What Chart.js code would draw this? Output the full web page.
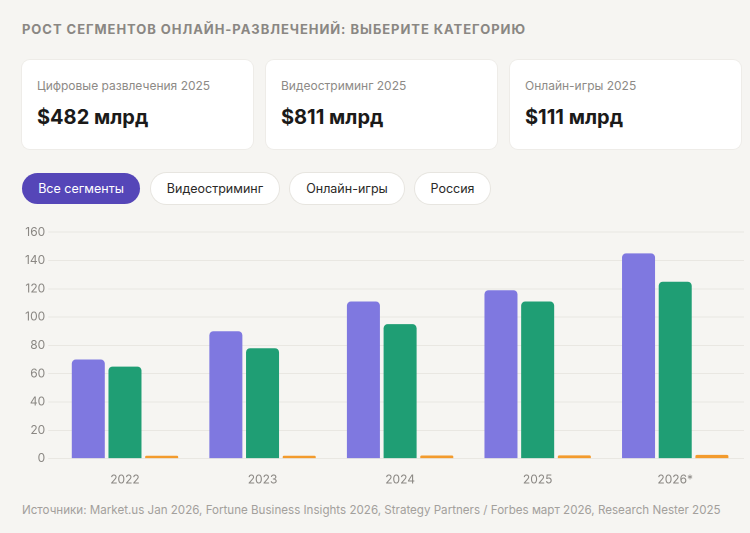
<!DOCTYPE html>
<html lang="ru">
<head>
<meta charset="utf-8">
<script src="https://cdn.jsdelivr.net/npm/chart.js@4.4.1/dist/chart.umd.min.js"></script>
<style>
    html, body { margin: 0; padding: 0; }
    body {
        width: 750px;
        height: 533px;
        background: #f6f5f2;
        font-family: Inter, "Noto Sans", sans-serif;
        position: relative;
        overflow: hidden;
    }
    .title {
        position: absolute;
        left: 22px;
        top: 21px;
        font-size: 13px;
        font-weight: 700;
        letter-spacing: 0.95px;
        color: #8a8783;
    }
    .card {
        position: absolute;
        top: 60px;
        width: 231px;
        height: 89px;
        background: #fff;
        border-radius: 8px;
        box-shadow: 0 0 0 1px #eeece8;
    }
    .card .lbl {
        position: absolute;
        left: 15px;
        top: 18px;
        font-size: 12px;
        color: #8d8a86;
    }
    .card .val {
        position: absolute;
        left: 15px;
        top: 45px;
        font-size: 20px;
        font-weight: 700;
        color: #1b1a19;
    }
    .btn {
        position: absolute;
        top: 173px;
        height: 31px;
        line-height: 31px;
        border-radius: 16px;
        background: #fff;
        box-shadow: 0 0 0 1px #e7e5e0;
        font-size: 12.5px;
        color: #2a2927;
        text-align: center;
    }
    .btn.active { background: #5546b8; color: #fff; box-shadow: none; }
    #chart-div {
        position: absolute;
        left: 22px;
        top: 222px;
        width: 722px;
        height: 271px;
    }
    .src {
        position: absolute;
        left: 22px;
        top: 503px;
        font-size: 11.6px;
        color: #a3a09c;
    }
</style>
</head>
<body>
<div class="title">РОСТ СЕГМЕНТОВ ОНЛАЙН-РАЗВЛЕЧЕНИЙ: ВЫБЕРИТЕ КАТЕГОРИЮ</div>

<div class="card" style="left:22px"><div class="lbl">Цифровые развлечения 2025</div><div class="val">$482 млрд</div></div>
<div class="card" style="left:266px"><div class="lbl">Видеостриминг 2025</div><div class="val">$811 млрд</div></div>
<div class="card" style="left:510px"><div class="lbl">Онлайн-игры 2025</div><div class="val">$111 млрд</div></div>

<div class="btn active" style="left:22px;width:118px">Все сегменты</div>
<div class="btn" style="left:151px;width:128px">Видеостриминг</div>
<div class="btn" style="left:290px;width:114px">Онлайн-игры</div>
<div class="btn" style="left:415px;width:75px">Россия</div>

<div id="chart-div"><canvas id="chart-main"></canvas></div>

<div class="src">Источники: Market.us Jan 2026, Fortune Business Insights 2026, Strategy Partners / Forbes март 2026, Research Nester 2025</div>

<script>
// values, $ bn
const years = ["2022", "2023", "2024", "2025", "2026*"];
const digitalEnt = [70, 90, 111, 119, 145];
const videoStreaming = [65, 78, 95, 111, 125];
const russia = [2, 2, 2.2, 2.3, 2.6];

const barColors = ["#7f78e0", "#1f9e74", "#f39b2d"];

var chartList = {};

function initChart(canvasID) {
    chartList["main"] = new Chart(canvasID, {
        type: "bar",
        data: {
            labels: years,
            datasets: [
                { label: "Цифровые развлечения", data: digitalEnt, backgroundColor: barColors[0] },
                { label: "Видеостриминг", data: videoStreaming, backgroundColor: barColors[1] },
                { label: "Россия", data: russia, backgroundColor: barColors[2] },
            ],
        },
        options: {
            responsive: true,
            maintainAspectRatio: false,
            animation: false,
            devicePixelRatio: 2,
            layout: { padding: 0 },
            elements: {
                bar: {
                    borderRadius: 4,
                    borderSkipped: "bottom",
                },
            },
            scales: {
                x: {
                    grid: { display: false },
                    border: { display: false },
                    ticks: {
                        padding: 6,
                        color: "#8a8783",
                        font: { family: "Inter", size: 12 },
                    },
                },
                y: {
                    min: 0,
                    max: 160,
                    ticks: {
                        stepSize: 20,
                        color: "#8a8783",
                        font: { family: "Inter", size: 12 },
                    },
                    grid: { color: "#e9e7e2" },
                    border: { display: false },
                },
            },
            plugins: {
                legend: { display: false },
                tooltip: { enabled: false },
            },
        },
    });
}

initChart("chart-main");
</script>
</body>
</html>
